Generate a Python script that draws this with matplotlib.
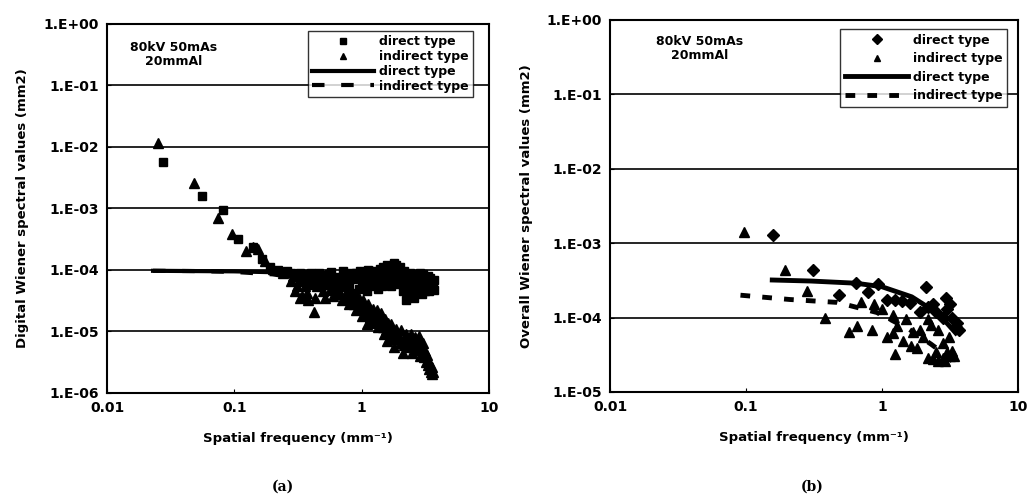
import matplotlib
matplotlib.use("Agg")
import matplotlib.pyplot as plt

plt.rcParams['font.family'] = ['DejaVu Sans']
plt.rcParams['font.weight'] = 'bold'

# ---- panel (a): digital Wiener spectrum ----
a_direct_f = [0.0276, 0.056, 0.082, 0.107, 0.14, 0.166, 0.19, 0.22, 0.26,
              0.3, 0.33, 0.36, 0.4, 0.44, 0.48, 0.52, 0.56, 0.6, 0.65, 0.7,
              0.75, 0.8, 0.85, 0.9, 0.95, 1.0, 1.05, 1.1, 1.15, 1.2, 1.3,
              1.35, 1.4, 1.5, 1.55, 1.6, 1.7, 1.75, 1.8, 1.9, 2.0, 2.1, 2.2,
              2.25, 2.3, 2.4, 2.5, 2.6, 2.7, 2.8, 2.9, 3.0, 3.1, 3.2, 3.3,
              3.4, 3.5, 3.6, 3.7, 3.7,
              0.28, 0.31, 0.35, 0.38, 0.42, 0.46, 0.5, 0.54, 0.58, 0.62,
              0.68, 0.72, 0.78, 0.82, 0.88, 0.92, 0.98, 1.02, 1.08, 1.12,
              1.18, 1.25, 1.28, 1.32, 1.38, 1.45, 1.48, 1.52, 1.58, 1.65,
              1.68, 1.72, 1.78, 1.85, 1.95, 2.05, 2.15, 2.35, 2.45, 2.55,
              2.65, 2.75, 2.85, 2.95, 3.05, 3.15, 3.25, 3.35, 3.45, 3.55, 3.65]
a_direct_v = [5.7e-3, 1.6e-3, 9.5e-4, 3.2e-4, 2.4e-4, 1.5e-4, 1.1e-4, 1.0e-4, 9.5e-5,
              8.5e-5, 9e-5, 7.5e-5, 8.8e-5, 7e-5, 8.2e-5, 6.5e-5, 8.5e-5, 6.8e-5, 7.8e-5, 6e-5,
              8.5e-5, 5.5e-5, 7.2e-5, 9e-5, 5e-5, 6.5e-5, 8e-5, 4.6e-5, 9.5e-5, 6e-5, 7.5e-5,
              5e-5, 1.05e-4, 6.5e-5, 8.5e-5, 1.2e-4, 5.5e-5, 9.5e-5, 1.3e-4, 7e-5, 1.1e-4, 4.5e-5, 8e-5,
              3.3e-5, 6e-5, 9e-5, 5e-5, 3.5e-5, 7.5e-5, 5.5e-5, 9e-5, 4e-5, 6.5e-5, 5e-5, 8e-5,
              4.5e-5, 6e-5, 5.5e-5, 4.8e-5, 7e-5,
              9e-5, 7.8e-5, 8.5e-5, 6.5e-5, 7.8e-5, 9e-5, 5.8e-5, 7.5e-5, 9.2e-5, 5.5e-5,
              6.8e-5, 9.5e-5, 6.5e-5, 8.8e-5, 4.2e-5, 7.5e-5, 9.5e-5, 5.5e-5, 7e-5, 1.0e-4,
              8.5e-5, 5.5e-5, 9.8e-5, 6.5e-5, 8.5e-5, 5.5e-5, 1.1e-4, 7.5e-5, 9.5e-5, 6.5e-5,
              1.15e-4, 8e-5, 6e-5, 1.2e-4, 9e-5, 6e-5, 9.5e-5, 7e-5, 4.2e-5, 8.5e-5,
              6e-5, 4.5e-5, 7e-5, 5e-5, 8.5e-5, 4.5e-5, 7e-5, 5.5e-5, 7.5e-5, 6.5e-5, 5.5e-5]

a_indirect_f = [0.025, 0.048, 0.074, 0.096, 0.123, 0.14, 0.155, 0.175, 0.2, 0.24,
                0.28, 0.3, 0.32, 0.34, 0.36, 0.38, 0.42, 0.45, 0.5, 0.55, 0.6,
                0.65, 0.7, 0.75, 0.8, 0.85, 0.9, 0.95, 1.0, 1.05, 1.1, 1.15,
                1.2, 1.3, 1.35, 1.4, 1.5, 1.55, 1.6, 1.7, 1.75, 1.8, 1.9, 2.0,
                2.1, 2.2, 2.3, 2.4, 2.5, 2.6, 2.7, 2.8, 2.9, 3.0, 3.1, 3.2,
                3.3, 3.4, 3.5, 3.6,
                0.29, 0.31, 0.33, 0.35, 0.37, 0.4, 0.43, 0.47, 0.52, 0.57,
                0.62, 0.67, 0.72, 0.77, 0.82, 0.87, 0.92, 0.97, 1.02, 1.07,
                1.12, 1.17, 1.22, 1.27, 1.32, 1.37, 1.42, 1.47, 1.52, 1.57,
                1.62, 1.67, 1.72, 1.78, 1.85, 1.95, 2.05, 2.15, 2.25, 2.35,
                2.45, 2.55, 2.65, 2.75, 2.85, 2.95, 3.05, 3.15, 3.25, 3.35,
                3.45, 3.55, 3.65]
a_indirect_v = [1.16e-2, 2.6e-3, 6.9e-4, 3.9e-4, 2e-4, 2.4e-4, 2.2e-4, 1.4e-4, 1.05e-4, 9e-5,
                6.5e-5, 4.5e-5, 7e-5, 3.8e-5, 5.5e-5, 3.2e-5, 2.1e-5, 5.5e-5, 4.5e-5, 6e-5, 3.8e-5,
                5e-5, 3.2e-5, 4.2e-5, 2.8e-5, 3.6e-5, 2.2e-5, 3e-5, 1.8e-5, 2.6e-5, 1.3e-5, 2.2e-5,
                1.5e-5, 1.9e-5, 1.2e-5, 1.6e-5, 9e-6, 1.3e-5, 7e-6, 1.1e-5, 8e-6, 5.5e-6, 9.5e-6, 6.5e-6,
                4.5e-6, 8e-6, 5.5e-6, 7e-6, 4.5e-6, 6.5e-6, 5e-6, 7.5e-6, 4e-6, 5.5e-6, 3.8e-6, 3.2e-6,
                2.8e-6, 2.5e-6, 2.2e-6, 2e-6,
                8e-5, 5.5e-5, 3.5e-5, 6.5e-5, 4.2e-5, 6e-5, 3.5e-5, 7e-5, 3.5e-5, 4.8e-5,
                6.5e-5, 4e-5, 5.5e-5, 3.5e-5, 4.5e-5, 2.8e-5, 4e-5, 2.4e-5, 3.2e-5, 2e-5,
                2.8e-5, 1.7e-5, 2.3e-5, 1.4e-5, 2.2e-5, 1.5e-5, 2e-5, 1.2e-5, 1.6e-5, 1.05e-5,
                1.4e-5, 9e-6, 1.3e-5, 7.5e-6, 1.1e-5, 8e-6, 1.05e-5, 6e-6, 9e-6, 6.5e-6,
                9e-6, 5.5e-6, 8e-6, 6e-6, 8.5e-6, 5e-6, 6.5e-6, 4.8e-6, 4.2e-6, 3.5e-6,
                3e-6, 2.6e-6, 2.2e-6]

a_fit_f = [0.023, 0.05, 0.1, 0.2, 0.3, 0.5, 1.0, 1.5, 2.0, 3.0, 3.7]
a_fit_direct = [9.7e-5, 9.6e-5, 9.5e-5, 9.2e-5, 8.8e-5, 8.2e-5, 7.4e-5, 6.9e-5, 6.5e-5, 6e-5, 5.7e-5]
a_fit_indirect = [9.7e-5, 9.6e-5, 9.3e-5, 8.5e-5, 7.5e-5, 5.5e-5, 2.8e-5, 1.4e-5, 8e-6, 3.8e-6, 2.2e-6]

# ---- panel (b): overall Wiener spectrum ----
b_direct_f = [0.159, 0.31, 0.48, 0.64, 0.79, 0.94, 1.1, 1.25, 1.4, 1.9, 2.1,
              2.4, 2.8, 2.95, 3.5, 1.6, 2.2, 2.5, 3.0, 3.2, 3.3, 3.6, 3.7]
b_direct_v = [1.3e-3, 4.3e-4, 2e-4, 2.9e-4, 2.2e-4, 2.8e-4, 1.7e-4, 1.75e-4, 1.65e-4, 1.2e-4, 2.6e-4,
              1.5e-4, 1e-4, 1.85e-4, 7.4e-5, 1.55e-4, 1.4e-4, 1.2e-4, 1.3e-4, 1.5e-4, 1.0e-4, 8.5e-5, 6.8e-5]

b_indirect_f = [0.096, 0.195, 0.28, 0.38, 0.57, 0.66, 0.7, 0.85, 0.87, 1.0, 1.1,
                1.2, 1.2, 1.26, 1.3, 1.44, 1.5, 1.63, 1.8, 1.9, 2.2, 2.2, 2.4,
                2.6, 2.6, 2.8, 2.8, 3.0, 3.2, 3.3, 2.9, 2.5, 2.0, 1.7, 3.4, 2.3, 3.1]
b_indirect_v = [1.4e-3, 4.4e-4, 2.3e-4, 1.0e-4, 6.5e-5, 7.6e-5, 1.6e-4, 6.9e-5, 1.5e-4, 1.3e-4, 5.4e-5,
                6.3e-5, 1.1e-4, 3.2e-5, 7.8e-5, 4.8e-5, 9.5e-5, 4.1e-5, 3.9e-5, 6.9e-5, 2.9e-5, 9.5e-5, 2.8e-5,
                6.9e-5, 2.6e-5, 4.6e-5, 2.9e-5, 3.4e-5, 3.0e-5, 3.6e-5, 2.6e-5, 3.5e-5, 5.5e-5, 6.5e-5,
                3.0e-5, 8e-5, 5.5e-5]

b_fit_direct_f = [0.156, 0.3, 0.64, 1.0, 1.66, 2.3, 3.0, 3.5]
b_fit_direct_v = [3.2e-4, 3.1e-4, 2.9e-4, 2.6e-4, 1.9e-4, 1.3e-4, 8.5e-5, 6.2e-5]
b_fit_indirect_f = [0.091, 0.21, 0.47, 0.92, 1.6, 2.3, 3.05, 3.3]
b_fit_indirect_v = [2e-4, 1.75e-4, 1.6e-4, 1.17e-4, 6.9e-5, 4.4e-5, 3e-5, 2.6e-5]

x_ticks = [0.01, 0.1, 1, 10]
x_labels = ['0.01', '0.1', '1', '10']


def style_axes(ax, ymin, ylabel):
    ax.set_xscale('log')
    ax.set_yscale('log')
    ax.set_xlim(0.01, 10)
    ax.set_ylim(ymin, 1)
    ax.set_xticks(x_ticks)
    ax.set_xticklabels(x_labels)
    decades = []
    d = 0
    while 10.0 ** d >= ymin * 0.999:
        decades.append(d)
        d -= 1
    ax.set_yticks([10.0 ** k for k in decades])
    ax.set_yticklabels(['1.E+00' if k == 0 else '1.E-%02d' % (-k) for k in decades])
    ax.minorticks_off()
    ax.tick_params(axis='both', direction='in', length=3, labelsize=10, pad=6)
    ax.grid(axis='y', color='black', linewidth=1.2)
    ax.set_axisbelow(True)
    for s in ax.spines.values():
        s.set_linewidth(1.5)
    ax.set_xlabel('Spatial frequency (mm\u207b\u00b9)', fontsize=9.5, fontweight='bold', labelpad=12)
    ax.set_ylabel(ylabel, fontsize=9.5, fontweight='bold', labelpad=10)


fig = plt.figure(figsize=(10.29, 5.01), dpi=100)
ax1 = fig.add_axes([0.104, 0.2156, 0.371, 0.7365])
ax2 = fig.add_axes([0.593, 0.2176, 0.396, 0.7425])

# panel (a)
ax1.plot(a_direct_f, a_direct_v, 's', color='black', markersize=5.5, label='direct type')
ax1.plot(a_indirect_f, a_indirect_v, '^', color='black', markersize=6.5, label='indirect type')
ax1.plot(a_fit_f, a_fit_direct, '-', color='black', linewidth=3, label='direct type')
ax1.plot(a_fit_f, a_fit_indirect, '--', color='black', linewidth=3, dashes=(3, 4), label='indirect type')
style_axes(ax1, 1e-6, 'Digital Wiener spectral values (mm2)')
leg1 = ax1.legend(loc='upper right', bbox_to_anchor=(0.958, 0.98), frameon=True, fancybox=False,
                  edgecolor='black', fontsize=9, handlelength=5, handletextpad=0.4,
                  borderpad=0.3, labelspacing=0.15, borderaxespad=0)
for h in leg1.legend_handles[:2]:
    h.set_markersize(4.5)
ax1.text(0.175, 0.955, '80kV 50mAs\n20mmAl', transform=ax1.transAxes, ha='center', va='top',
         fontsize=9, fontweight='bold', linespacing=1.1)

# panel (b)
ax2.plot(b_direct_f, b_direct_v, 'D', color='black', markersize=6, label='direct type')
ax2.plot(b_indirect_f, b_indirect_v, '^', color='black', markersize=7.5, label='indirect type')
ax2.plot(b_fit_direct_f, b_fit_direct_v, '-', color='black', linewidth=3.5, label='direct type')
ax2.plot(b_fit_indirect_f, b_fit_indirect_v, '--', color='black', linewidth=3.5, dashes=(2, 2.5), label='indirect type')
style_axes(ax2, 1e-5, 'Overall Wiener spectral values (mm2)')
leg2 = ax2.legend(loc='upper right', bbox_to_anchor=(0.975, 0.977), frameon=True, fancybox=False,
                  edgecolor='black', fontsize=9, handlelength=5, handletextpad=0.4,
                  borderpad=0.4, labelspacing=0.45, borderaxespad=0)
for h in leg2.legend_handles[:2]:
    h.set_markersize(5)
ax2.text(0.22, 0.96, '80kV 50mAs\n20mmAl', transform=ax2.transAxes, ha='center', va='top',
         fontsize=9, fontweight='bold', linespacing=1.1)

fig.text(283 / 1029, 1 - 487 / 501, '(a)', ha='center', va='center', family='DejaVu Serif',
         fontsize=10, fontweight='bold')
fig.text(812 / 1029, 1 - 487 / 501, '(b)', ha='center', va='center', family='DejaVu Serif',
         fontsize=10, fontweight='bold')

fig.savefig('out.png', dpi=100, facecolor='white')
